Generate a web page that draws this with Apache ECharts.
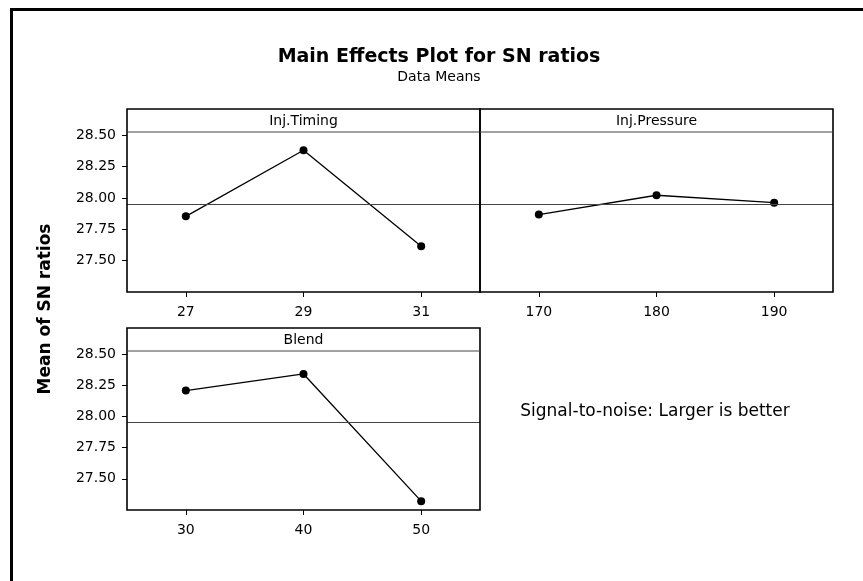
<!DOCTYPE html>
<html>
<head>
<meta charset="utf-8">
<script src="https://cdn.jsdelivr.net/npm/echarts@6/dist/echarts.min.js"></script>
<style>
  html, body { margin: 0; padding: 0; background: #fff; }
  #chart { width: 863px; height: 581px; }
</style>
</head>
<body>
<div id="chart"></div>
<script>
// ---- data ----
const timingLevels = ['27', '29', '31'];
const timingSN = [27.853, 28.380, 27.614];
const pressureLevels = ['170', '180', '190'];
const pressureSN = [27.867, 28.021, 27.962];
const blendLevels = ['30', '40', '50'];
const blendSN = [28.208, 28.341, 27.321];
const panelNames = ['Inj.Timing', 'Inj.Pressure', 'Blend'];
const overallMean = 27.95;
const yTickValues = [27.50, 27.75, 28.00, 28.25, 28.50];
const yMin = 27.25, yMax = 28.525;

// ---- layout ----
const FONT = 'DejaVu Sans';
const panels = [
  { left: 127, top: 132, width: 353, height: 160, boxTop: 109, cats: timingLevels, vals: timingSN, name: panelNames[0], yLabels: true },
  { left: 480, top: 132, width: 353, height: 160, boxTop: 109, cats: pressureLevels, vals: pressureSN, name: panelNames[1], yLabels: false },
  { left: 127, top: 351, width: 353, height: 159, boxTop: 328, cats: blendLevels, vals: blendSN, name: panelNames[2], yLabels: true }
];

const chart = echarts.init(document.getElementById('chart'), null, { renderer: 'canvas' });

const grids = [], xAxes = [], yAxes = [], series = [], graphics = [];
panels.forEach((p, i) => {
  grids.push({ left: p.left, top: p.top, width: p.width, height: p.height, containLabel: false });
  xAxes.push({
    type: 'category', gridIndex: i, data: p.cats, boundaryGap: true,
    axisLine: { show: false },
    axisTick: { show: true, alignWithLabel: true, inside: false, length: 5, lineStyle: { color: '#000', width: 1 } },
    axisLabel: { color: '#000', fontFamily: FONT, fontSize: 14, margin: 13 },
    splitLine: { show: false }
  });
  yAxes.push({
    type: 'value', gridIndex: i, min: yMin, max: yMax,
    axisLine: { show: false },
    axisTick: { show: p.yLabels, length: 5, lineStyle: { color: '#000', width: 1 }, customValues: yTickValues },
    axisLabel: { show: p.yLabels, color: '#000', fontFamily: FONT, fontSize: 14, margin: 11,
      customValues: yTickValues, formatter: v => Number(v).toFixed(2) },
    splitLine: { show: false }
  });
  series.push({
    type: 'line', xAxisIndex: i, yAxisIndex: i, data: p.vals,
    symbol: 'circle', symbolSize: 8,
    itemStyle: { color: '#000' },
    lineStyle: { color: '#000', width: 1.3 },
    animation: false,
    markLine: {
      silent: true, symbol: 'none', animation: false,
      label: { show: false },
      lineStyle: { color: '#444', width: 1, type: 'solid' },
      data: [{ yAxis: overallMean }]
    }
  });
  // panel box (header strip + plot area)
  graphics.push({
    type: 'rect', silent: true, z: 10,
    shape: { x: p.left, y: p.boxTop, width: p.width, height: p.top + p.height - p.boxTop },
    style: { fill: 'none', stroke: '#000', lineWidth: 1.6 }
  });
  graphics.push({
    type: 'line', silent: true, z: 10,
    shape: { x1: p.left, y1: p.top, x2: p.left + p.width, y2: p.top },
    style: { stroke: '#444', lineWidth: 1.2 }
  });
  graphics.push({
    type: 'text', silent: true, z: 10,
    x: p.left + p.width / 2, y: (p.boxTop + p.top) / 2 + 1,
    style: { text: p.name, fill: '#000', font: '14px "' + FONT + '"', align: 'center', verticalAlign: 'middle' }
  });
});

// outer frame
graphics.push({
  type: 'rect', silent: true, z: 0,
  shape: { x: 11.5, y: 9.5, width: 900, height: 700 },
  style: { fill: 'none', stroke: '#000', lineWidth: 3 }
});
// y axis title
graphics.push({
  type: 'text', silent: true, z: 10,
  x: 46, y: 309, rotation: Math.PI / 2,
  style: { text: 'Mean of SN ratios', fill: '#000', font: 'bold 17px "' + FONT + '"', align: 'center', verticalAlign: 'middle' }
});
// note
graphics.push({
  type: 'text', silent: true, z: 10,
  x: 655, y: 412,
  style: { text: 'Signal-to-noise: Larger is better', fill: '#000', font: '17px "' + FONT + '"', align: 'center', verticalAlign: 'middle' }
});

chart.setOption({
  backgroundColor: '#fff',
  animation: false,
  title: {
    text: 'Main Effects Plot for SN ratios',
    subtext: 'Data Means',
    left: 434, top: 43, textAlign: 'center', itemGap: 3,
    textStyle: { color: '#000', fontFamily: FONT, fontWeight: 'bold', fontSize: 19 },
    subtextStyle: { color: '#000', fontFamily: FONT, fontSize: 14 }
  },
  grid: grids,
  xAxis: xAxes,
  yAxis: yAxes,
  series: series,
  graphic: { elements: graphics }
});
</script>
</body>
</html>
